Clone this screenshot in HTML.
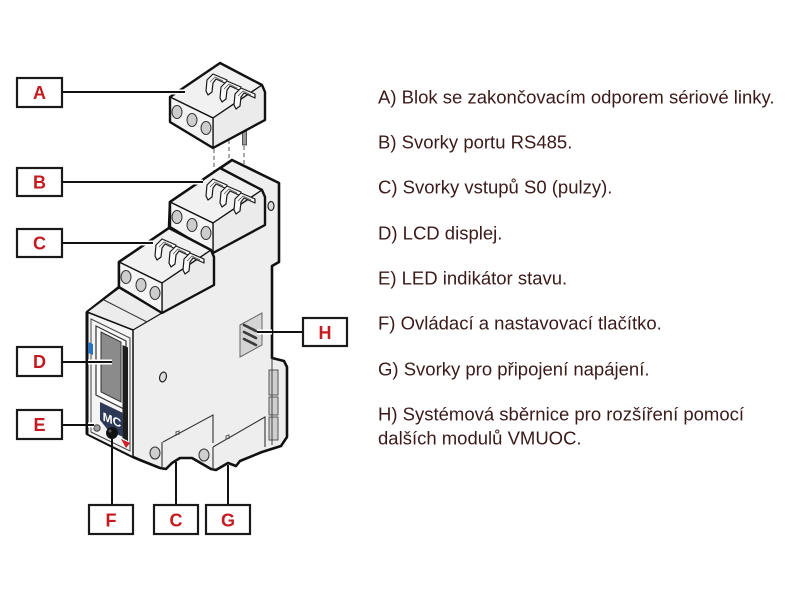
<!DOCTYPE html>
<html><head><meta charset="utf-8"><style>
html,body{margin:0;padding:0;background:#fff;width:800px;height:600px;overflow:hidden}
svg{display:block}
.t{font-family:"Liberation Sans",Arial,sans-serif;font-size:18.5px;fill:#3b1a1a}
.l{font-family:"Liberation Sans",Arial,sans-serif;font-size:18px;font-weight:bold;fill:#c41a20;text-anchor:middle}
</style></head><body>
<svg width="800" height="600" viewBox="0 0 800 600" xmlns="http://www.w3.org/2000/svg">
<rect width="800" height="600" fill="#fff"/>
<defs>
<g id="hook">
  <polygon points="0,0 6,-6 20,0 20,4 9,-1 6,3 5,12 1,15 -1,11" fill="#fafafa" stroke="#1a1a1a" stroke-width="1.2" stroke-linejoin="round"/>
  <path d="M3,2 L8,-3 L16,1" fill="none" stroke="#555" stroke-width="0.8"/>
</g>
<g id="blk">
  <polygon points="0,0 50,-34 92,-12 43,21" fill="#f1f1f1" stroke="#111" stroke-width="1.3" stroke-linejoin="round"/>
  <polygon points="43,21 92,-12 95,-5 95,23 43,51" fill="#ebebeb" stroke="#111" stroke-width="1.3" stroke-linejoin="round"/>
  <polygon points="0,0 43,21 43,51 0,25" fill="#f4f4f4" stroke="#111" stroke-width="1.3" stroke-linejoin="round"/>
  <ellipse cx="7" cy="15" rx="5" ry="6.5" fill="#cdcdcd" stroke="#333" stroke-width="1"/>
  <ellipse cx="22" cy="23" rx="5" ry="6.5" fill="#cdcdcd" stroke="#333" stroke-width="1"/>
  <ellipse cx="36" cy="31" rx="5" ry="6.5" fill="#cdcdcd" stroke="#333" stroke-width="1"/>
  <use href="#hook" x="37" y="-17"/>
  <use href="#hook" x="51" y="-10"/>
  <use href="#hook" x="65" y="-3"/>
  <polygon points="0,0 50,-34 92,-12 95,-5 95,23 43,51 0,25" fill="none" stroke="#111" stroke-width="2.4" stroke-linejoin="round"/>
</g>
</defs>

<g stroke="#555" stroke-width="1" stroke-dasharray="4,3" fill="none">
  <line x1="214" y1="149" x2="214" y2="180"/>
  <line x1="229" y1="140" x2="229" y2="183"/>
  <line x1="244" y1="146" x2="244" y2="194"/>
</g>
<rect x="242.5" y="131" width="4" height="14" fill="#9a9a9a" stroke="#333" stroke-width="0.8"/>

<use href="#blk" x="170" y="97"/>

<polygon points="87,312 119,287 119,262 169,228 170,202 232,160 279,183 279,262 272,266 272,358 284,361 287,367 287,437 281,446 262,452 240,461 236,466 228,463 216,470 211,469 192,458 180,458 172,463 166,469 160,468 140,460 133,457 87,434" fill="#eeeeee" stroke="#111" stroke-width="2.6" stroke-linejoin="round"/>

<polygon points="87,312 119,288 162,313 133,330" fill="#ececec" stroke="#111" stroke-width="1.3" stroke-linejoin="round"/>
<line x1="104" y1="300" x2="147" y2="322" stroke="#333" stroke-width="1"/>

<line x1="262" y1="193" x2="262" y2="226" stroke="#222" stroke-width="1.2"/>
<ellipse cx="271" cy="206" rx="3" ry="4.5" fill="#ddd" stroke="#222" stroke-width="1.2"/>

<use href="#blk" x="170" y="202"/>
<use href="#blk" x="119" y="262"/>

<polygon points="87,312 133,330 133,457 87,434" fill="#f4f4f4" stroke="#111" stroke-width="1.5" stroke-linejoin="round"/>
<polygon points="91,319 130,338 130,451 91,432" fill="none" stroke="#444" stroke-width="1"/>
<line x1="87" y1="312" x2="87" y2="434" stroke="#111" stroke-width="3"/>
<polygon points="96,326 126,341 126,410 96,395" fill="#fbfbfb" stroke="#333" stroke-width="1.2"/>
<polygon points="101,332 121,342 121,402 101,392" fill="#8b8b8b" stroke="#333" stroke-width="1"/>
<polygon points="122.5,345 128,347.5 128,441 122.5,438" fill="#1e1e1e"/>
<polygon points="100,402 123,413 123,437 108,430 100,420" fill="#2c3a57"/>
<g transform="translate(112,424) skewY(22)">
<text x="0" y="0" font-family="Liberation Sans, Arial, sans-serif" font-size="12" font-weight="bold" fill="#fff" text-anchor="middle">MC</text>
</g>
<polygon points="88,342 93,344 93,355 88,353" fill="#2a72c4"/>
<circle cx="97" cy="428" r="3.2" fill="#9e9e9e" stroke="#444" stroke-width="1"/>
<circle cx="112" cy="433" r="6" fill="#111"/>
<circle cx="110" cy="431" r="1.5" fill="#555"/>
<polygon points="121,439 130,443 126,448" fill="#d0202a"/>

<ellipse cx="163" cy="377" rx="3.3" ry="5" fill="#ddd" stroke="#222" stroke-width="1.2" transform="rotate(15 163 377)"/>
<polyline points="163,442 213,415 213,443" fill="none" stroke="#333" stroke-width="1.1"/>
<polyline points="213,447 265,417 265,447" fill="none" stroke="#333" stroke-width="1.1"/>
<line x1="162" y1="442" x2="162" y2="468" stroke="#333" stroke-width="1.1"/>
<line x1="213" y1="447" x2="213" y2="470" stroke="#333" stroke-width="1.1"/>
<path d="M176,436 l0,-4 l3,-1 l0,4" fill="none" stroke="#444" stroke-width="0.9"/>
<path d="M226,440 l0,-4 l3,-1 l0,4" fill="none" stroke="#444" stroke-width="0.9"/>
<ellipse cx="155" cy="453" rx="5" ry="6" fill="#cfcfcf" stroke="#333" stroke-width="1"/>
<ellipse cx="204" cy="455" rx="5" ry="6" fill="#cfcfcf" stroke="#333" stroke-width="1"/>
<rect x="269" y="370" width="9" height="25" fill="#cfcfcf" stroke="#555" stroke-width="1"/>
<rect x="269" y="397" width="9" height="18" fill="#cfcfcf" stroke="#555" stroke-width="1"/>
<rect x="269" y="417" width="9" height="23" fill="#cfcfcf" stroke="#555" stroke-width="1"/>
<line x1="272" y1="358" x2="272" y2="445" stroke="#444" stroke-width="1"/>

<polygon points="240,325 262,313 262,345 240,357" fill="#d4d4d4" stroke="#666" stroke-width="1"/>
<g stroke="#3a3a3a" stroke-width="2.6" stroke-linecap="round">
  <line x1="244" y1="325" x2="256" y2="331"/>
  <line x1="244" y1="332" x2="256" y2="338"/>
  <line x1="244" y1="339" x2="256" y2="345"/>
</g>

<g stroke="#fff" stroke-width="5">
  <line x1="168" y1="92" x2="185" y2="92"/>
  <line x1="172" y1="182" x2="203" y2="182"/>
  <line x1="120" y1="243" x2="153" y2="243"/>
  <line x1="88" y1="362" x2="112" y2="362"/>
  <line x1="88" y1="425" x2="94" y2="425"/>
  <line x1="257" y1="332" x2="272" y2="332"/>
</g>
<g stroke="#111" stroke-width="2">
  <line x1="63" y1="92" x2="185" y2="92"/>
  <line x1="63" y1="182" x2="203" y2="182"/>
  <line x1="63" y1="243" x2="153" y2="243"/>
  <line x1="63" y1="362" x2="112" y2="362"/>
  <line x1="63" y1="425" x2="94" y2="425"/>
  <line x1="257" y1="332" x2="303" y2="332"/>
  <line x1="112" y1="439" x2="112" y2="505"/>
  <line x1="176" y1="462" x2="176" y2="505"/>
  <line x1="228" y1="465" x2="228" y2="505"/>
</g>

<g fill="#fff" stroke="#1a1a1a" stroke-width="2.2">
  <rect x="17" y="78" width="45" height="29"/>
  <rect x="17" y="168" width="45" height="28"/>
  <rect x="17" y="229" width="45" height="28"/>
  <rect x="17" y="347" width="45" height="29"/>
  <rect x="17" y="410" width="45" height="29"/>
  <rect x="303" y="318" width="44" height="28"/>
  <rect x="89" y="505" width="44" height="29"/>
  <rect x="154" y="505" width="44" height="29"/>
  <rect x="206" y="505" width="44" height="29"/>
</g>
<text class="l" x="39.5" y="99">A</text>
<text class="l" x="39.5" y="188.5">B</text>
<text class="l" x="39.5" y="249.5">C</text>
<text class="l" x="39.5" y="368">D</text>
<text class="l" x="39.5" y="431">E</text>
<text class="l" x="325" y="339">H</text>
<text class="l" x="111" y="526.5">F</text>
<text class="l" x="176" y="526.5">C</text>
<text class="l" x="228" y="526.5">G</text>

<text class="t" x="378" y="103.5">A) Blok se zakončovacím odporem sériové linky.</text>
<text class="t" x="378" y="148.5">B) Svorky portu RS485.</text>
<text class="t" x="378" y="193.5">C) Svorky vstupů S0 (pulzy).</text>
<text class="t" x="378" y="239.5">D) LCD displej.</text>
<text class="t" x="378" y="284.5">E) LED indikátor stavu.</text>
<text class="t" x="378" y="329.5">F) Ovládací a nastavovací tlačítko.</text>
<text class="t" x="378" y="375.5">G) Svorky pro připojení napájení.</text>
<text class="t" x="378" y="420.5">H) Systémová sběrnice pro rozšíření pomocí</text>
<text class="t" x="378" y="444.5">dalších modulů VMUOC.</text>
</svg>
</body></html>
